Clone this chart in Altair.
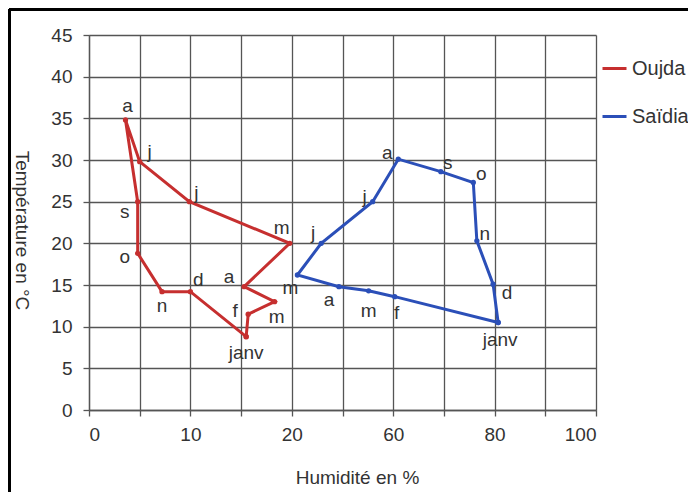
import altair as alt
import pandas as pd

# ---- data ----
months = ["janv", "f", "m", "a", "m", "j", "j", "a", "s", "o", "n", "d"]
oujda_hum = [15.5, 15.7, 18.3, 15.3, 19.8, 9.9, 5.0, 3.6, 4.8, 4.8, 7.2, 10.0]
oujda_temp = [8.8, 11.5, 13.0, 14.8, 20.0, 25.0, 29.8, 34.8, 25.0, 18.8, 14.2, 14.2]
saidia_hum = [80.7, 60.3, 50.3, 38.6, 22.2, 31.6, 51.9, 61.0, 69.4, 75.8, 76.5, 79.7]
saidia_temp = [10.5, 13.6, 14.3, 14.8, 16.2, 20.0, 25.0, 30.1, 28.6, 27.3, 20.3, 15.1]
cities = ["Oujda", "Saïdia"]
x_grid = [0, 5, 10, 15, 20, 40, 60, 70, 80, 90, 100]
x_labels = [0, 10, 20, 60, 80, 100]

# ---- layout / style ----
W, H = 507, 375
PAD = {"left": 81, "top": 27, "right": 680 - 81 - W, "bottom": 484 - 27 - H}
COLORS = ["#c62f2f", "#2b4fb8"]
TXT = "#333333"
FONT = "Liberation Sans"
# pixel offsets of the month labels from their points
label_offsets = {
    "Oujda": [(0, 16), (-13, -3), (2, 15), (-15, -10), (-8, -15), (7, -9),
              (10, -10), (2, -14), (-13, 10), (-13, 4), (0, 14), (8, -12)],
    "Saïdia": [(2, 17), (2, 16), (0, 20), (-10, 13), (-7, 13), (-8, -10),
               (-8, -5), (-11, -6), (7, -9), (8, -9), (8, -7), (14, 9)],
}

rows = []
for city, hum, temp in [("Oujda", oujda_hum, oujda_temp), ("Saïdia", saidia_hum, saidia_temp)]:
    for i in range(13):
        k = i % 12
        rows.append({"city": city, "ord": i, "month": months[k], "hum": hum[k], "temp": temp[k]})
df = pd.DataFrame(rows)

xscale = alt.Scale(domain=[0, 20, 60, 100], range=[0, 0.4 * W, 0.6 * W, W], nice=False, zero=False)
yscale = alt.Scale(domain=[0, 45], nice=False)

xenc = alt.X("hum:Q", scale=xscale,
             axis=alt.Axis(values=x_grid, title="Humidité en %",
                           labelExpr="indexof(%s, datum.value) >= 0 ? datum.label : ''" % str(x_labels),
                           titleX=268, titleY=67, titleBaseline="middle",
                           titleAlign="center", labelPadding=9))
yenc = alt.Y("temp:Q", scale=yscale,
             axis=alt.Axis(values=list(range(0, 50, 5)), title="Température en °C",
                           titleAngle=90, titleX=-68, titleY=195, titleAlign="center",
                           titleBaseline="middle", labelPadding=11))
color = alt.Color("city:N", scale=alt.Scale(domain=cities, range=COLORS),
                  legend=alt.Legend(title=None, orient="none", legendX=512, legendY=20,
                                    symbolType="stroke", symbolSize=576, symbolStrokeWidth=3,
                                    labelFontSize=20, labelFont=FONT, labelColor=TXT,
                                    rowPadding=24, labelOffset=4))

base = alt.Chart(df)
lines = base.mark_line(strokeWidth=3).encode(x=xenc, y=yenc, color=color, order="ord:Q", detail="city:N")
points = base.mark_circle(size=28, opacity=1).encode(x="hum:Q", y="temp:Q",
                                                     color=alt.Color("city:N", legend=None))

label_layers = []
for city in cities:
    for k in range(12):
        dx, dy = label_offsets[city][k]
        label_layers.append(
            base.transform_filter(
                (alt.datum.city == city) & (alt.datum.ord == k)
            ).mark_text(fontSize=19, font=FONT, color=TXT, dx=dx, dy=dy).encode(
                x="hum:Q", y="temp:Q", text="month:N"))

frame_data = alt.Data(values=[{"a": 1}])
left_border = alt.Chart(frame_data).mark_rule(color="black", strokeWidth=3, clip=False).encode(
    x=alt.value(-PAD["left"] + 1.5), y=alt.value(-PAD["top"] + 1), y2=alt.value(H + PAD["bottom"]))
top_border = alt.Chart(frame_data).mark_rule(color="black", strokeWidth=3, clip=False).encode(
    x=alt.value(-PAD["left"] + 1), x2=alt.value(W + PAD["right"]), y=alt.value(-PAD["top"] + 1.5))

chart = alt.layer(lines, points, *label_layers, left_border, top_border).properties(
    width=W, height=H, padding=PAD, autosize=alt.AutoSizeParams(type="none"),
    background="white"
).configure_view(stroke=None).configure_axis(
    grid=True, gridColor="#555555", gridWidth=1.3, domainColor="#555555", domainWidth=1.3,
    tickColor="#555555", tickWidth=1.3, tickSize=6,
    labelFont=FONT, labelFontSize=19, labelColor=TXT,
    titleFont=FONT, titleFontSize=19, titleColor=TXT, titleFontWeight="normal"
)

chart.save("out.html", embed_options={"renderer": "svg", "actions": False})
